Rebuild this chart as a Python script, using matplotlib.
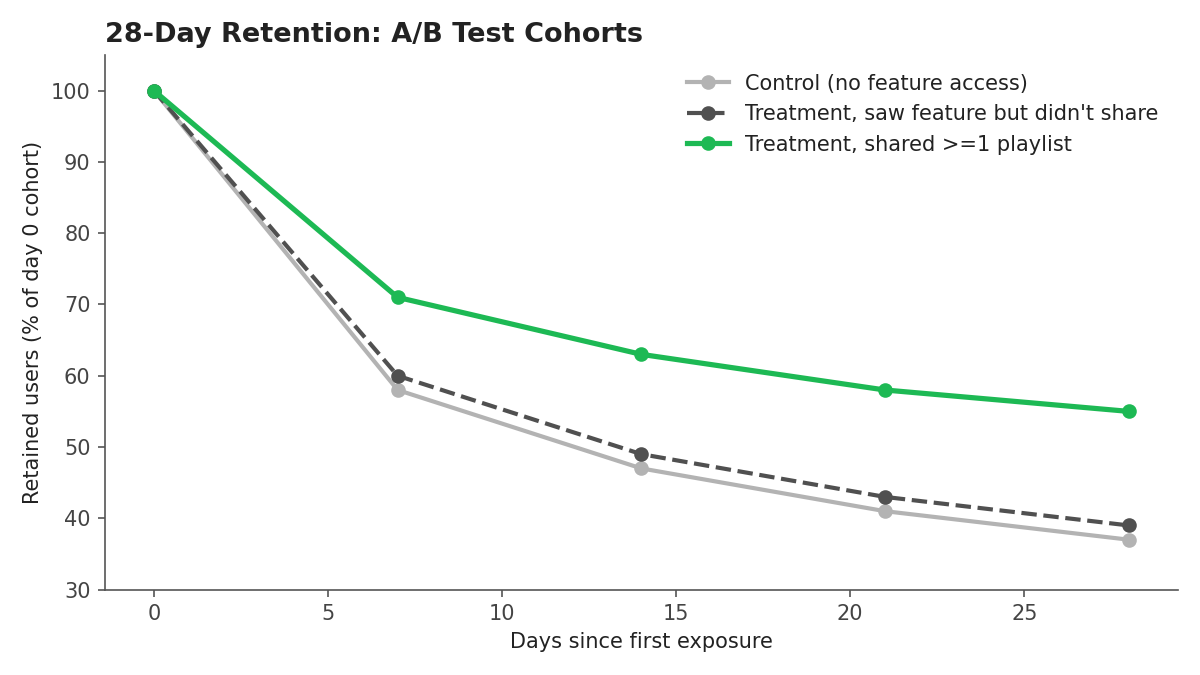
import matplotlib
matplotlib.use("Agg")
import matplotlib.pyplot as plt

days = [0, 7, 14, 21, 28]
control = [100, 58, 47, 41, 37]
saw_no_share = [100, 60, 49, 43, 39]
shared = [100, 71, 63, 58, 55]

fig, ax = plt.subplots(figsize=(8, 4.5), dpi=150)

ax.plot(days, control, color="#b3b3b3", lw=2, marker="o", ms=6,
        label="Control (no feature access)")
ax.plot(days, saw_no_share, color="#505050", lw=2, ls="--", marker="o", ms=6,
        label="Treatment, saw feature but didn't share")
ax.plot(days, shared, color="#1DB954", lw=2.5, marker="o", ms=6,
        label="Treatment, shared >=1 playlist")

ax.set_ylim(30, 105)
ax.set_xlabel("Days since first exposure", color="#222222")
ax.set_ylabel("Retained users (% of day 0 cohort)", color="#222222")
ax.set_title("28-Day Retention: A/B Test Cohorts", loc="left",
             fontsize=13, fontweight="bold", color="#222222")

for s in ["top", "right"]:
    ax.spines[s].set_visible(False)
for s in ["left", "bottom"]:
    ax.spines[s].set_color("#555555")
ax.tick_params(colors="#555555", labelcolor="#444444")

leg = ax.legend(frameon=False, loc="upper right")
for t in leg.get_texts():
    t.set_color("#222222")

fig.tight_layout()
fig.savefig("out.png", dpi=150)
